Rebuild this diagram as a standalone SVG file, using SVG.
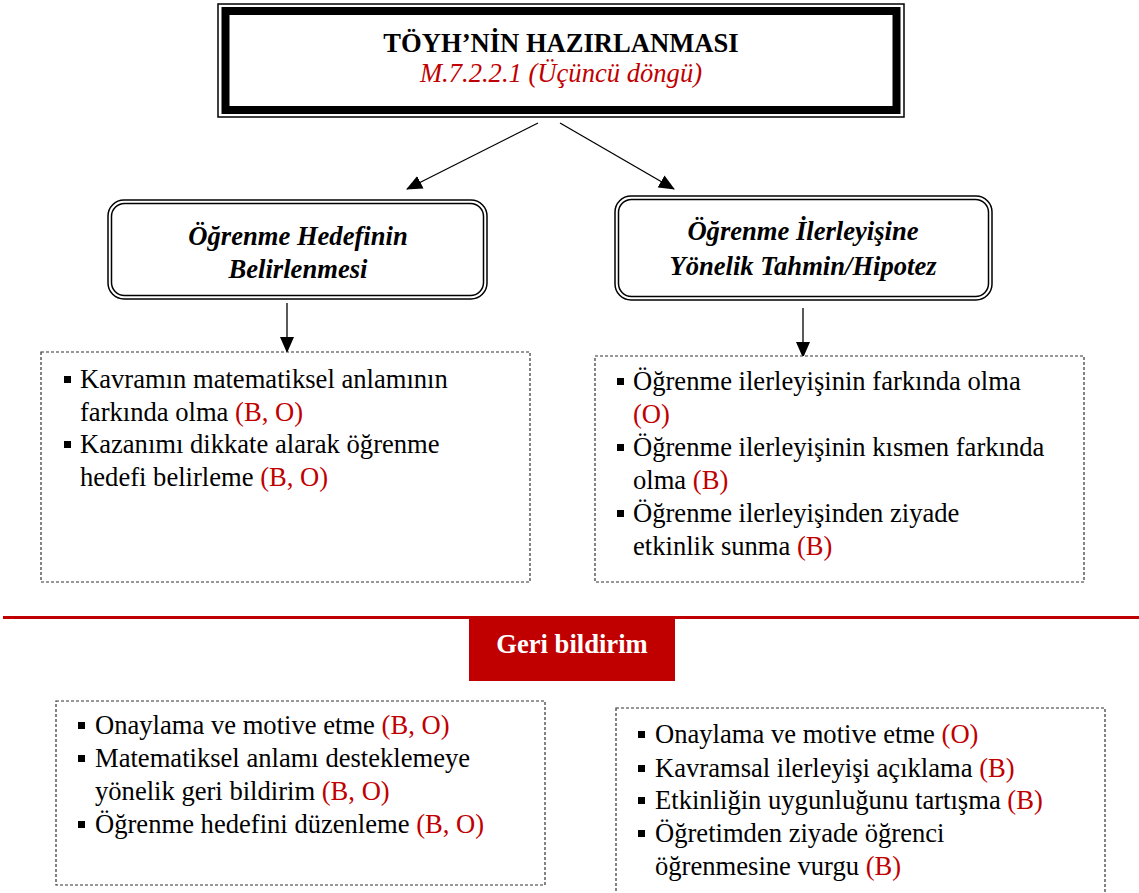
<svg xmlns="http://www.w3.org/2000/svg" width="1139" height="893" viewBox="0 0 1139 893">
  <defs>
    <marker id="arrowBig" markerWidth="16" markerHeight="14" refX="15" refY="7" orient="auto" markerUnits="userSpaceOnUse" viewBox="0 0 16 14">
      <path d="M0,0 L16,7 L0,14 Z" fill="#000"/>
    </marker>
  </defs>
  <style>
    .title { font-weight: bold; }
    .code { font-style: italic; fill: #C00000; }
    .head { font-weight: bold; font-style: italic; }
    .red { fill: #C00000; }
    .dash { fill: #fff; stroke: #333; stroke-width: 1.2; stroke-dasharray: 3 2; }
    .dbl { fill: none; stroke: #000; stroke-width: 1.5; }
    .bullet { fill: #000; }
    .conn { stroke: #000; stroke-width: 1.3; fill: none; }
  </style>
  <rect width="1139" height="893" fill="#fff"/>

  <g font-family="'Liberation Serif', 'Times New Roman', serif" font-size="26.6" fill="#000">

  <!-- title box with thick-thin frame -->
  <g id="title">
    <rect x="218" y="4" width="686" height="113" fill="#fff" stroke="#000" stroke-width="1.5"/>
    <rect x="225.5" y="11" width="671" height="99" fill="none" stroke="#000" stroke-width="8"/>
    <text class="title" x="561" y="52" text-anchor="middle">TÖYH’NİN HAZIRLANMASI</text>
    <text class="code" x="561" y="82" text-anchor="middle">M.7.2.2.1 (Üçüncü döngü)</text>
  </g>

  <!-- connectors -->
  <g id="connectors">
    <line class="conn" x1="538" y1="123" x2="407" y2="189" marker-end="url(#arrowBig)"/>
    <line class="conn" x1="560" y1="123" x2="674" y2="189" marker-end="url(#arrowBig)"/>
    <line class="conn" x1="287" y1="303" x2="287" y2="352" marker-end="url(#arrowBig)"/>
    <line class="conn" x1="803" y1="308" x2="803" y2="357" marker-end="url(#arrowBig)"/>
  </g>

  <!-- left heading -->
  <g id="goal">
    <rect class="dbl" x="108" y="200" width="379" height="99" rx="16"/>
    <rect class="dbl" x="111.5" y="203.5" width="372" height="92" rx="13"/>
    <text class="head" x="298" y="245" text-anchor="middle">Öğrenme Hedefinin</text>
    <text class="head" x="298" y="278" text-anchor="middle">Belirlenmesi</text>
  </g>

  <!-- right heading -->
  <g id="progress">
    <rect class="dbl" x="615" y="196" width="377" height="104" rx="16"/>
    <rect class="dbl" x="618.5" y="199.5" width="370" height="97" rx="13"/>
    <text class="head" x="803" y="240" text-anchor="middle">Öğrenme İlerleyişine</text>
    <text class="head" x="803" y="275" text-anchor="middle">Yönelik Tahmin/Hipotez</text>
  </g>

  <!-- left list -->
  <g id="goal-list">
    <rect class="dash" x="41" y="352" width="489" height="230"/>
    <rect class="bullet" x="64" y="376" width="7" height="7"/>
    <text x="80" y="388">Kavramın matematiksel anlamının</text>
    <text x="80" y="421">farkında olma <tspan class="red">(B, O)</tspan></text>
    <rect class="bullet" x="64" y="441" width="7" height="7"/>
    <text x="80" y="453">Kazanımı dikkate alarak öğrenme</text>
    <text x="80" y="486">hedefi belirleme <tspan class="red">(B, O)</tspan></text>
  </g>

  <!-- right list -->
  <g id="progress-list">
    <rect class="dash" x="595" y="356" width="489" height="226"/>
    <rect class="bullet" x="617" y="378" width="7" height="7"/>
    <text x="633" y="390">Öğrenme ilerleyişinin farkında olma</text>
    <text x="633" y="423" class="red">(O)</text>
    <rect class="bullet" x="617" y="444" width="7" height="7"/>
    <text x="633" y="456">Öğrenme ilerleyişinin kısmen farkında</text>
    <text x="633" y="489">olma <tspan class="red">(B)</tspan></text>
    <rect class="bullet" x="617" y="510" width="7" height="7"/>
    <text x="633" y="522">Öğrenme ilerleyişinden ziyade</text>
    <text x="633" y="555">etkinlik sunma <tspan class="red">(B)</tspan></text>
  </g>

  <!-- feedback divider -->
  <g id="feedback">
    <rect x="3" y="616" width="1136" height="3" fill="#C00000"/>
    <rect x="469" y="619" width="206" height="62" fill="#C00000"/>
    <text class="title" x="572" y="653" text-anchor="middle" fill="#fff">Geri bildirim</text>
  </g>

  <!-- feedback lists -->
  <g id="feedback-left">
    <rect class="dash" x="56" y="701" width="489" height="184"/>
    <rect class="bullet" x="78" y="722" width="7" height="7"/>
    <text x="95" y="734">Onaylama ve motive etme <tspan class="red">(B, O)</tspan></text>
    <rect class="bullet" x="78" y="755" width="7" height="7"/>
    <text x="95" y="767">Matematiksel anlamı desteklemeye</text>
    <text x="95" y="800">yönelik geri bildirim <tspan class="red">(B, O)</tspan></text>
    <rect class="bullet" x="78" y="821" width="7" height="7"/>
    <text x="95" y="833">Öğrenme hedefini düzenleme <tspan class="red">(B, O)</tspan></text>
  </g>

  <g id="feedback-right">
    <rect class="dash" x="616" y="708" width="489" height="200"/>
    <rect class="bullet" x="638" y="731" width="7" height="7"/>
    <text x="655" y="743">Onaylama ve motive etme <tspan class="red">(O)</tspan></text>
    <rect class="bullet" x="638" y="765" width="7" height="7"/>
    <text x="655" y="777">Kavramsal ilerleyişi açıklama <tspan class="red">(B)</tspan></text>
    <rect class="bullet" x="638" y="797" width="7" height="7"/>
    <text x="655" y="809">Etkinliğin uygunluğunu tartışma <tspan class="red">(B)</tspan></text>
    <rect class="bullet" x="638" y="830" width="7" height="7"/>
    <text x="655" y="842">Öğretimden ziyade öğrenci</text>
    <text x="655" y="875">öğrenmesine vurgu <tspan class="red">(B)</tspan></text>
  </g>

  </g>
</svg>
